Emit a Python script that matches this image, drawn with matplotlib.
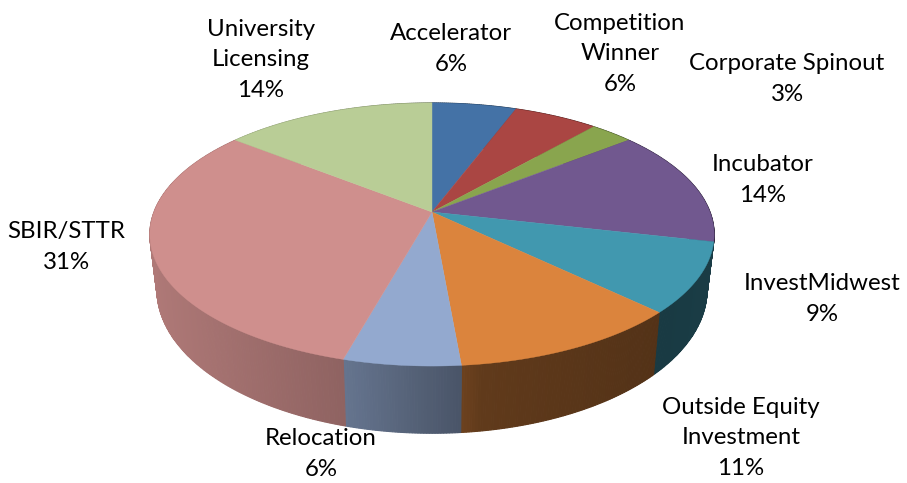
import numpy as np
import matplotlib
matplotlib.use('Agg')
import matplotlib.pyplot as plt
from matplotlib.colors import to_rgb

plt.rcParams['font.family'] = ['Lato', 'DejaVu Sans']

# data
names = ['Accelerator', 'Competition\nWinner', 'Corporate Spinout', 'Incubator', 'InvestMidwest',
         'Outside Equity\nInvestment', 'Relocation', 'SBIR/STTR', 'University\nLicensing']
shares = [5.7, 5.7, 2.9, 14.3, 8.6, 11.4, 5.7, 31.4, 14.3]
colors = ['#4472a6', '#aa4643', '#89a54e', '#71588f', '#4198af', '#db843d', '#93a9cf', '#cf8f8d', '#b9cd96']

# where the labels sit, in pixels
label_x = [451, 620, 787, 763, 822, 741, 321, 66, 261]
label_y = [49, 54, 79, 180, 299, 438, 454, 247, 60]

# perspective of the disc
cx = 432
k = 0.171
top_plane = (212, 278, 127.7)
bottom_plane = (265, 271, 139.5)

# wall shading, depends on x
shade_x = [150, 345, 460, 480, 655, 710]
shade_f = [0.85, 0.69, 0.50, 0.44, 0.38, 0.40]


def project(theta, plane, r=1.0):
    yc, b, a = plane
    u = r * np.sin(theta)
    v = r * np.cos(theta)
    d = 1 + k * v
    return cx + b * u / d, yc - a * v / d


fig = plt.figure(figsize=(9.07, 4.83), dpi=100)
ax = fig.add_axes([0, 0, 1, 1])
ax.set_xlim(0, 907)
ax.set_ylim(483, 0)
ax.axis('off')

edges = np.concatenate([[0], np.cumsum(shares)]) / np.sum(shares) * 2 * np.pi

# walls first
for i in range(len(shares)):
    t = np.linspace(edges[i], edges[i + 1], max(int((edges[i + 1] - edges[i]) * 120), 3))
    x1, y1 = project(t, top_plane)
    x2, y2 = project(t, bottom_plane)
    base = np.array(to_rgb(colors[i]))
    for j in range(len(t) - 1):
        f = np.interp((x2[j] + x2[j + 1]) / 2, shade_x, shade_f)
        ax.fill([x1[j], x1[j + 1], x2[j + 1], x2[j]], [y1[j], y1[j + 1], y2[j + 1], y2[j]],
                color=base * f, lw=0.8, zorder=1)

# then the top of the pie
for i in range(len(shares)):
    t = np.linspace(edges[i], edges[i + 1], 200)
    x, y = project(t, top_plane)
    ax.fill(np.r_[cx, x], np.r_[top_plane[0], y], color=colors[i], lw=0.3, zorder=2)

for i in range(len(names)):
    ax.text(label_x[i], label_y[i], f'{names[i]}\n{round(shares[i])}%', ha='center', va='center',
            fontsize=17.3, linespacing=1.58, color='black', zorder=3)

fig.savefig('out.png', dpi=100)
